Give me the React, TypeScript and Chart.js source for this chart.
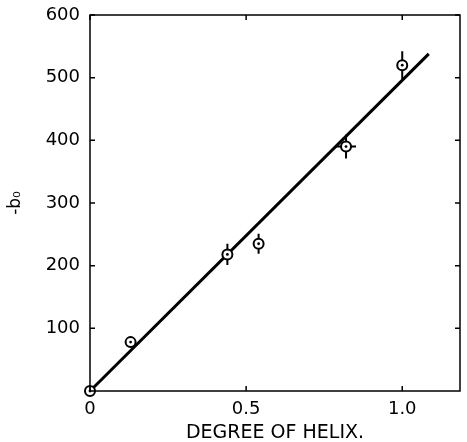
import React, { useEffect, useRef } from "react";
import { Chart, registerables } from "chart.js";

Chart.register(...registerables);

const helixX = [0, 0.13, 0.44, 0.54, 0.82, 1.0];
const bValues = [0, 78, 218, 235, 390, 520];
const yErr = [0, 0, 17, 16, 19, 22];
const xErr = [0, 0, 0, 0, 0.032, 0];
const fitX = [0, 1.085];
const fitY = [0, 538];
const xTickValues = [0, 0.5, 1.0];
const yTickValues = [100, 200, 300, 400, 500, 600];

const FONT = "'DejaVu Sans', sans-serif";

const decorPlugin = {
  id: "decor",
  afterDraw(chart: any) {
    const { ctx, chartArea } = chart;
    const xs = chart.scales.x;
    const ys = chart.scales.y;
    ctx.save();
    ctx.strokeStyle = "#000";
    ctx.lineWidth = 1.5;
    ctx.strokeRect(chartArea.left, chartArea.top, chartArea.right - chartArea.left, chartArea.bottom - chartArea.top);
    const tl = 5;
    ctx.beginPath();
    yTickValues.forEach((v) => {
      const py = ys.getPixelForValue(v);
      ctx.moveTo(chartArea.left, py);
      ctx.lineTo(chartArea.left + tl, py);
      ctx.moveTo(chartArea.right, py);
      ctx.lineTo(chartArea.right - tl, py);
    });
    xTickValues.forEach((v) => {
      const px = xs.getPixelForValue(v);
      ctx.moveTo(px, chartArea.bottom);
      ctx.lineTo(px, chartArea.bottom - tl);
      ctx.moveTo(px, chartArea.top);
      ctx.lineTo(px, chartArea.top + tl);
    });
    ctx.stroke();

    const r = 5;
    ctx.lineWidth = 2;
    helixX.forEach((xv, i) => {
      const px = xs.getPixelForValue(xv);
      const py = ys.getPixelForValue(bValues[i]);
      ctx.beginPath();
      if (yErr[i] > 0) {
        const top = ys.getPixelForValue(bValues[i] + yErr[i]);
        const bot = ys.getPixelForValue(bValues[i] - yErr[i]);
        ctx.moveTo(px, py - r);
        ctx.lineTo(px, top);
        ctx.moveTo(px, py + r);
        ctx.lineTo(px, bot);
      }
      if (xErr[i] > 0) {
        const lft = xs.getPixelForValue(xv - xErr[i]);
        const rgt = xs.getPixelForValue(xv + xErr[i]);
        ctx.moveTo(px - r, py);
        ctx.lineTo(lft, py);
        ctx.moveTo(px + r, py);
        ctx.lineTo(rgt, py);
      }
      ctx.stroke();
      ctx.beginPath();
      ctx.fillStyle = "#000";
      ctx.arc(px, py, 1.4, 0, Math.PI * 2);
      ctx.fill();
    });
    ctx.restore();
  },
};

export default function App() {
  const ref = useRef<HTMLCanvasElement | null>(null);
  useEffect(() => {
    if (!ref.current) return;
    const chart = new Chart(ref.current, {
      type: "scatter",
      data: {
        datasets: [
          {
            type: "scatter",
            data: helixX.map((x, i) => ({ x, y: bValues[i] })),
            pointRadius: 5,
            pointBorderWidth: 2,
            pointBorderColor: "#000",
            pointBackgroundColor: "#fff",
            clip: false as any,
            order: 0,
          },
          {
            type: "line",
            data: fitX.map((x, i) => ({ x, y: fitY[i] })),
            borderColor: "#000",
            borderWidth: 3,
            pointRadius: 0,
            fill: false,
            order: 1,
          },
        ],
      },
      options: {
        animation: false,
        responsive: true,
        maintainAspectRatio: false,
        layout: { padding: { top: 15, right: 3, left: 0, bottom: 0 } },
        plugins: { legend: { display: false }, tooltip: { enabled: false } },
        scales: {
          x: {
            type: "linear",
            min: 0,
            max: 1.185,
            grid: { display: false, drawTicks: false },
            border: { display: false },
            afterBuildTicks: (s: any) => {
              s.ticks = xTickValues.map((v) => ({ value: v }));
            },
            afterFit: (s: any) => {
              s.height = 51;
              s.paddingLeft = 0;
              s.paddingRight = 0;
            },
            ticks: {
              padding: 8,
              color: "#000",
              font: { family: FONT, size: 18 },
              callback: (v: any) => (v === 0 ? "0" : Number(v).toFixed(1)),
            },
            title: {
              display: true,
              text: "DEGREE OF HELIX.",
              color: "#000",
              font: { family: FONT, size: 19 },
              padding: { top: 0, bottom: -2 },
            },
          },
          y: {
            type: "linear",
            min: 0,
            max: 600,
            grid: { display: false, drawTicks: false },
            border: { display: false },
            afterBuildTicks: (s: any) => {
              s.ticks = yTickValues.map((v) => ({ value: v }));
            },
            afterFit: (s: any) => {
              s.width = 90;
              s.paddingTop = 0;
              s.paddingBottom = 0;
            },
            ticks: {
              padding: 10,
              color: "#000",
              font: { family: FONT, size: 18 },
            },
            title: {
              display: true,
              text: "-b₀",
              color: "#000",
              font: { family: FONT, size: 17 },
              padding: { top: 5, bottom: 0 },
            },
          },
        },
      },
      plugins: [decorPlugin],
    });
    return () => chart.destroy();
  }, []);
  return (
    <div style={{ position: "fixed", left: 0, top: 0, width: 467, height: 442, background: "#fff" }}>
      <canvas ref={ref} />
    </div>
  );
}
